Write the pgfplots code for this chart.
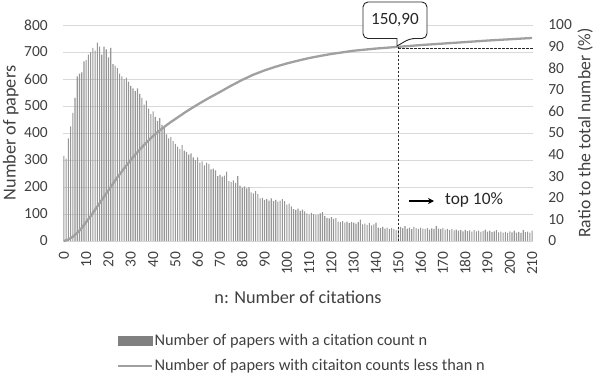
\documentclass[border=0pt]{standalone}
\usepackage{fontspec}
\setmainfont{Carlito}
\usepackage{pgfplots}
\pgfplotsset{compat=1.18}
\usepackage{pgfplotstable}
\usetikzlibrary{arrows.meta}
\definecolor{barcol}{RGB}{150,150,150}
\definecolor{legbar}{RGB}{128,128,128}
\definecolor{linecol}{RGB}{160,160,160}
\definecolor{gridcol}{RGB}{217,217,217}
\definecolor{txt}{RGB}{64,64,64}

\pgfplotstableread{
n v
0 315
1 305
2 380
3 425
4 475
5 530
6 610
7 620
8 625
9 665
10 670
11 690
12 700
13 715
14 705
15 735
16 720
17 690
18 720
19 710
20 680
21 715
22 655
23 650
24 640
25 620
26 610
27 600
28 605
29 590
30 575
31 565
32 555
33 565
34 545
35 530
36 505
37 520
38 490
39 470
40 480
41 460
42 445
43 455
44 430
45 420
46 395
47 380
48 385
49 370
50 360
51 350
52 340
53 355
54 335
55 330
56 320
57 325
58 310
59 300
60 310
61 290
62 295
63 280
64 290
65 285
66 265
67 268
68 262
69 240
70 245
71 238
72 242
73 257
74 222
75 218
76 225
77 215
78 240
79 205
80 198
81 202
82 195
83 200
84 180
85 176
86 185
87 175
88 158
89 160
90 152
91 155
92 150
93 158
94 148
95 152
96 146
97 150
98 155
99 148
100 135
101 138
102 128
103 118
104 115
105 120
106 112
107 116
108 110
109 102
110 98
111 104
112 100
113 96
114 98
115 102
116 107
117 92
118 86
119 84
120 88
121 82
122 85
123 72
124 70
125 74
126 68
127 72
128 66
129 70
130 68
131 64
132 70
133 79
134 62
135 64
136 60
137 66
138 58
139 62
140 68
141 50
142 48
143 52
144 46
145 50
146 45
147 48
148 44
149 40
150 42
151 52
152 48
153 55
154 46
155 50
156 44
157 52
158 48
159 45
160 50
161 46
162 44
163 48
164 42
165 47
166 45
167 55
168 46
169 44
170 48
171 42
172 45
173 40
174 44
175 39
176 42
177 38
178 40
179 36
180 41
181 37
182 39
183 35
184 40
185 36
186 38
187 34
188 37
189 42
190 35
191 38
192 33
193 36
194 40
195 32
196 35
197 31
198 34
199 30
200 36
201 32
202 38
203 31
204 34
205 30
206 40
207 33
208 35
209 31
210 38
}\bars

\pgfplotstableread{
n p
0 0
2 0.7
4 2
6 3.8
8 6
10 8.8
12 11.5
14 14.5
16 17.5
18 20.5
20 23.5
22 26.5
24 29.5
26 32.2
28 34.9
30 37.5
32 40
34 42.3
36 44.5
38 46.6
40 48.6
42 50.4
44 52
46 53.6
48 55.1
50 56.5
55 60
60 63.2
65 66.2
70 69
75 71.9
80 74.6
85 77
90 79
95 80.7
100 82.2
105 83.5
110 84.7
115 85.7
120 86.6
130 88.1
140 89.1
150 89.9
160 90.7
170 91.4
180 92.1
190 92.8
200 93.4
210 94
}\cumul

\begin{document}
\fontsize{15.5}{18}\selectfont
\begin{tikzpicture}
\path[use as bounding box] (0bp,0bp) rectangle (600bp,-381bp);
\pgfplotsset{
  base/.style={
    at={(63bp,-241bp)}, anchor=south west,
    scale only axis, width=470bp, height=216bp,
    xmin=-0.4, xmax=210.4,
    major tick length=0pt,
    tick label style={font=\fontsize{15.5}{18}\selectfont, text=txt},
    label style={font=\fontsize{18.3}{21}\selectfont, text=txt},
    /pgf/number format/assume math mode=true,
  }
}
\begin{axis}[base,
  ymin=0, ymax=800,
  axis x line*=bottom, axis y line*=left,
  x axis line style={draw=gridcol, line width=0.8bp, -},
  y axis line style={draw=none},
  xtick={0,10,...,210},
  xticklabel style={rotate=90, anchor=east},
  xticklabel shift=5bp,
  ytick={0,100,...,800},
  yticklabel shift=10bp,
  ymajorgrids, grid style={gridcol, line width=0.8bp},
  xlabel={n: Number of citations},
  x label style={at={(axis description cs:0.5,-0.259)}, anchor=center},
  ylabel={Number of papers},
  y label style={at={(axis description cs:-0.111,0.5)}, anchor=center, rotate=0},
]
\addplot[ybar, bar width=0.5, fill=barcol, draw=none] table[x=n,y=v] {\bars};
\end{axis}
\begin{axis}[base,
  ymin=0, ymax=100,
  axis x line=none, axis y line*=right,
  y axis line style={draw=none},
  ytick={0,10,...,100},
  yticklabel shift=10bp,
  ylabel={Ratio to the total number (\%)},
  y label style={at={(axis description cs:1.111,0.5)}, anchor=center, rotate=0, font=\fontsize{17.7}{20}\selectfont},
  clip=false,
  legend style={at={(axis description cs:0.108,-0.41)}, anchor=north west, draw=none, fill=none,
    font=\fontsize{16.4}{19}\selectfont, text=txt, row sep=8bp,
    nodes={inner xsep=2bp}},
  legend cell align=left,
]
\addlegendimage{legend image code/.code={\fill[legbar] (0bp,-4.5bp) rectangle (34bp,4.5bp);}}
\addlegendentry{Number of papers with a citation count n}
\addplot[linecol, line width=2.3bp, legend image code/.code={\draw[linecol, line width=1.6bp] (0bp,0bp) -- (34bp,0bp);}] table[x=n,y=p] {\cumul};
\addlegendentry{Number of papers with citaiton counts less than n}
\draw[black!85, line width=0.7bp, dash pattern=on 2.5bp off 1.5bp] (axis cs:150,90) -- (axis cs:150,0);
\draw[black!85, line width=0.7bp, dash pattern=on 2.5bp off 1.5bp] (axis cs:150,89.3) -- (axis cs:210.4,89.3);
\end{axis}
\begin{scope}[x=1bp,y=-1bp]
\draw[black!85, line width=0.9bp, fill=white, rounded corners=5bp] (363,2) -- (427,2) -- (427,38.5) -- (410,38.5) [sharp corners] -- (397,46) -- (397,38.5) [rounded corners=5bp] -- (363,38.5) -- cycle;
\node[text=black!85, font=\fontsize{17.2}{20}\selectfont] at (395,20.5) {150,90};
\draw[-{Stealth[length=6bp,width=6bp]}, line width=1.3bp, black] (409,201) -- (434,201);
\node[anchor=west, text=black!85, font=\fontsize{17.4}{20}\selectfont, inner sep=0pt] at (445,200) {top 10\%};
\end{scope}
\end{tikzpicture}
\end{document}
